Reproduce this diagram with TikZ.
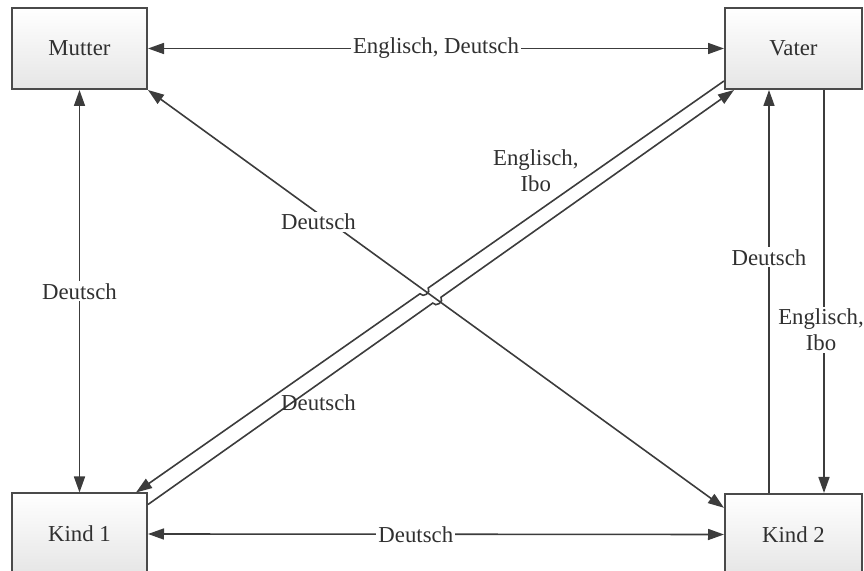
\documentclass[tikz,border=0pt]{standalone}
\usepackage{fontspec}
\setmainfont{Liberation Serif}
\usetikzlibrary{arrows.meta,calc}
\definecolor{ln}{HTML}{3C3C3C}
\definecolor{bx}{HTML}{4A4A4A}
\definecolor{tx}{HTML}{303030}
\tikzset{
  person/.style={draw=bx, line width=1pt, top color=white, bottom color=black!10,
    minimum width=67.5pt, minimum height=40.5pt, inner sep=0pt, text=tx},
  conn/.style={draw=ln, line width=0.8pt},
  tip/.tip={Triangle[length=8pt,width=5.5pt]},
  lab/.style={fill=white, inner sep=1pt, text=tx, align=center},
  freelab/.style={inner sep=1pt, text=tx, align=center}
}
\begin{document}
\begin{tikzpicture}[x=0.5pt,y=-0.5pt,font=\fontsize{11.4}{13}\selectfont]
\useasboundingbox (0,0) rectangle (864,571);
\node[person] (M) at (79.5,48.5) {Mutter};
\node[person, minimum width=68.5pt] (V) at (793.5,48.5) {Vater};
\node[person] (K1) at (79.5,534) {Kind 1};
\node[person, minimum width=68.5pt] (K2) at (793.5,534.5) {Kind 2};

% Mutter - Vater
\draw[conn,{tip}-{tip}] (M.east) -- (V.west) node[lab,midway] {Englisch, Deutsch};
% Mutter - Kind 1
\draw[conn,{tip}-{tip}] (M.south) -- (K1.north) node[lab,midway] {Deutsch};
% Kind 1 - Kind 2
\draw[conn,{tip}-{tip}] (K1.east) -- (K2.west) node[lab,pos=0.465] {Deutsch};
% Mutter - Kind 2 diagonal
\draw[conn,{tip}-{tip}] (M.south east) -- (K2.159) node[lab,pos=0.296,yshift=-4pt] {Deutsch};

% Vater -> Kind 1 (upper line) with hop
\coordinate (a5) at ([yshift=4.5pt]V.south west);
\coordinate (b5) at ([xshift=-6pt]K1.north east);
\draw[conn,-{tip}] (a5) -- ($(a5)!0.503!(b5)$) to[bend left=90,looseness=1.4] ($(a5)!0.517!(b5)$) -- (b5);
\path (a5) -- (b5) node[freelab,pos=0.32,yshift=21pt] {Englisch,\\Ibo};

% Kind 1 -> Vater (lower line) with hop
\coordinate (a6) at ([yshift=-6pt]K1.north east);
\coordinate (b6) at ([xshift=5pt]V.south west);
\draw[conn,-{tip}] (a6) -- ($(a6)!0.486!(b6)$) to[bend right=90,looseness=1.4] ($(a6)!0.500!(b6)$) -- (b6);
\path (a6) -- (b6) node[freelab,pos=0.291,yshift=-9.5pt] {Deutsch};

% Kind 2 -> Vater
\draw[conn,-{tip}] ([xshift=-12.25pt]K2.north) -- ([xshift=-12.25pt]V.south) node[lab,pos=0.585] {Deutsch};
% Vater -> Kind 2
\draw[conn,-{tip}] ([xshift=15.25pt]V.south) -- ([xshift=15.25pt]K2.north) node[lab,pos=0.595,xshift=-1.5pt] {Englisch,\\Ibo};
\end{tikzpicture}
\end{document}
